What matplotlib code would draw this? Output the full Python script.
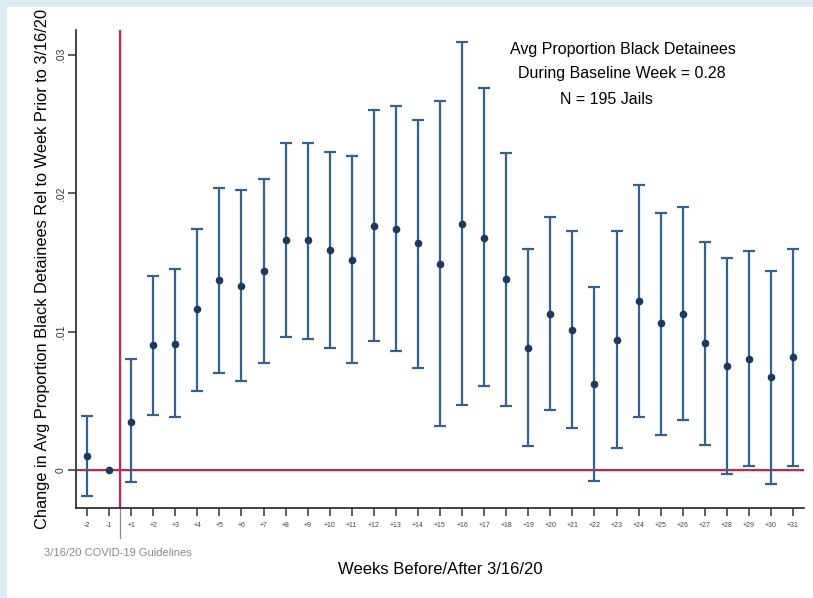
import numpy as np
import matplotlib
matplotlib.use("Agg")
import matplotlib.pyplot as plt
from matplotlib.patches import Rectangle

plt.rcParams['font.family'] = ['Liberation Sans', 'DejaVu Sans']

# weeks relative to 3/16/20 (baseline week -1 omitted from the CI)
week_labels = ['-2', '-1'] + ['+%d' % w for w in range(1, 32)]

coef = [0.0010, 0.0, 0.0035, 0.0090, 0.0091, 0.0116, 0.0137, 0.0133, 0.0144,
        0.0166, 0.0166, 0.0159, 0.0152, 0.0176, 0.0174, 0.0164, 0.0149, 0.0178,
        0.0168, 0.0138, 0.0088, 0.0113, 0.0101, 0.0062, 0.0094, 0.0122, 0.0106,
        0.0113, 0.0092, 0.0075, 0.0080, 0.0067, 0.0082]
upper = [0.0039, np.nan, 0.0080, 0.0140, 0.0145, 0.0174, 0.0204, 0.0202, 0.0210,
         0.0236, 0.0236, 0.0230, 0.0227, 0.0260, 0.0263, 0.0253, 0.0267, 0.0309,
         0.0276, 0.0229, 0.0160, 0.0183, 0.0173, 0.0132, 0.0173, 0.0206, 0.0186,
         0.0190, 0.0165, 0.0153, 0.0158, 0.0144, 0.0160]
lower = [-0.0019, np.nan, -0.0009, 0.0040, 0.0038, 0.0057, 0.0070, 0.0064, 0.0077,
         0.0096, 0.0095, 0.0088, 0.0077, 0.0093, 0.0086, 0.0074, 0.0032, 0.0047,
         0.0061, 0.0046, 0.0017, 0.0043, 0.0030, -0.0008, 0.0016, 0.0038, 0.0025,
         0.0036, 0.0018, -0.0003, 0.0003, -0.0010, 0.0003]

y_ticks = [0, 0.01, 0.02, 0.03]
y_tick_labels = ['0', '.01', '.02', '.03']

bar_color = '#35618c'
dot_color = '#1d3a5c'
red = '#c2274a'
border = '#dceef4'

fig = plt.figure(figsize=(8.13, 5.98), dpi=100, facecolor='white')
# light blue frame on the left and top
fig.patches.append(Rectangle((0, 0), 7 / 813, 1, transform=fig.transFigure,
                             facecolor=border, edgecolor='none'))
fig.patches.append(Rectangle((0, 1 - 7 / 598), 1, 7 / 598, transform=fig.transFigure,
                             facecolor=border, edgecolor='none'))

ax = fig.add_axes([0.0935, 0.1505, 0.8955, 0.7993])
ax.set_facecolor('white')

x = np.arange(len(week_labels))
c = np.array(coef)
lo = np.array(lower)
hi = np.array(upper)
has_ci = ~np.isnan(lo)

ax.axhline(0, color=red, lw=1.6, zorder=1)
ax.axvline(1.5, color=red, lw=1.6, zorder=1)

ax.errorbar(x[has_ci], c[has_ci],
            yerr=[c[has_ci] - lo[has_ci], hi[has_ci] - c[has_ci]],
            fmt='none', ecolor=bar_color, elinewidth=1.6, capsize=4.5, capthick=1.6,
            zorder=2)
ax.plot(x, c, 'o', color=dot_color, markersize=4.5, zorder=3)

ax.set_xlim(-0.5, 32.5)
ax.set_ylim(-0.00275, 0.0318)

ax.set_xticks(x)
ax.set_xticklabels(week_labels, fontsize=5, color='#444444')
ax.set_yticks(y_ticks)
ax.set_yticklabels(y_tick_labels, fontsize=7.5, rotation=90, va='center', color='#333333')
ax.tick_params(axis='both', direction='out', length=6, width=1.1, colors='#333333',
               pad=4)
ax.tick_params(axis='x', labelcolor='#444444')
ax.tick_params(axis='y', pad=1.5)

for side in ['top', 'right']:
    ax.spines[side].set_visible(False)
for side in ['left', 'bottom']:
    ax.spines[side].set_color('#333333')
    ax.spines[side].set_linewidth(1.3)

# guideline marker extends below the axis
ax.plot([1.5, 1.5], [0, -0.062], transform=ax.get_xaxis_transform(), color='#888888',
        lw=0.9, clip_on=False)

ax.set_ylabel('Change in Avg Proportion Black Detainees Rel to Week Prior to 3/16/20',
              fontsize=11.75, labelpad=4)
ax.set_xlabel('Weeks Before/After 3/16/20', fontsize=12, labelpad=24)

ax.text(0.751, 0.960, 'Avg Proportion Black Detainees', transform=ax.transAxes,
        ha='center', va='center', fontsize=11.5)
ax.text(0.750, 0.910, 'During Baseline Week = 0.28', transform=ax.transAxes,
        ha='center', va='center', fontsize=11.5)
ax.text(0.729, 0.854, 'N = 195 Jails', transform=ax.transAxes,
        ha='center', va='center', fontsize=11.5)

fig.text(44 / 813, 1 - 553 / 598, '3/16/20 COVID-19 Guidelines', fontsize=8,
         color='#888888', ha='left', va='center')

fig.savefig('out.png', dpi=100, facecolor=fig.get_facecolor())
